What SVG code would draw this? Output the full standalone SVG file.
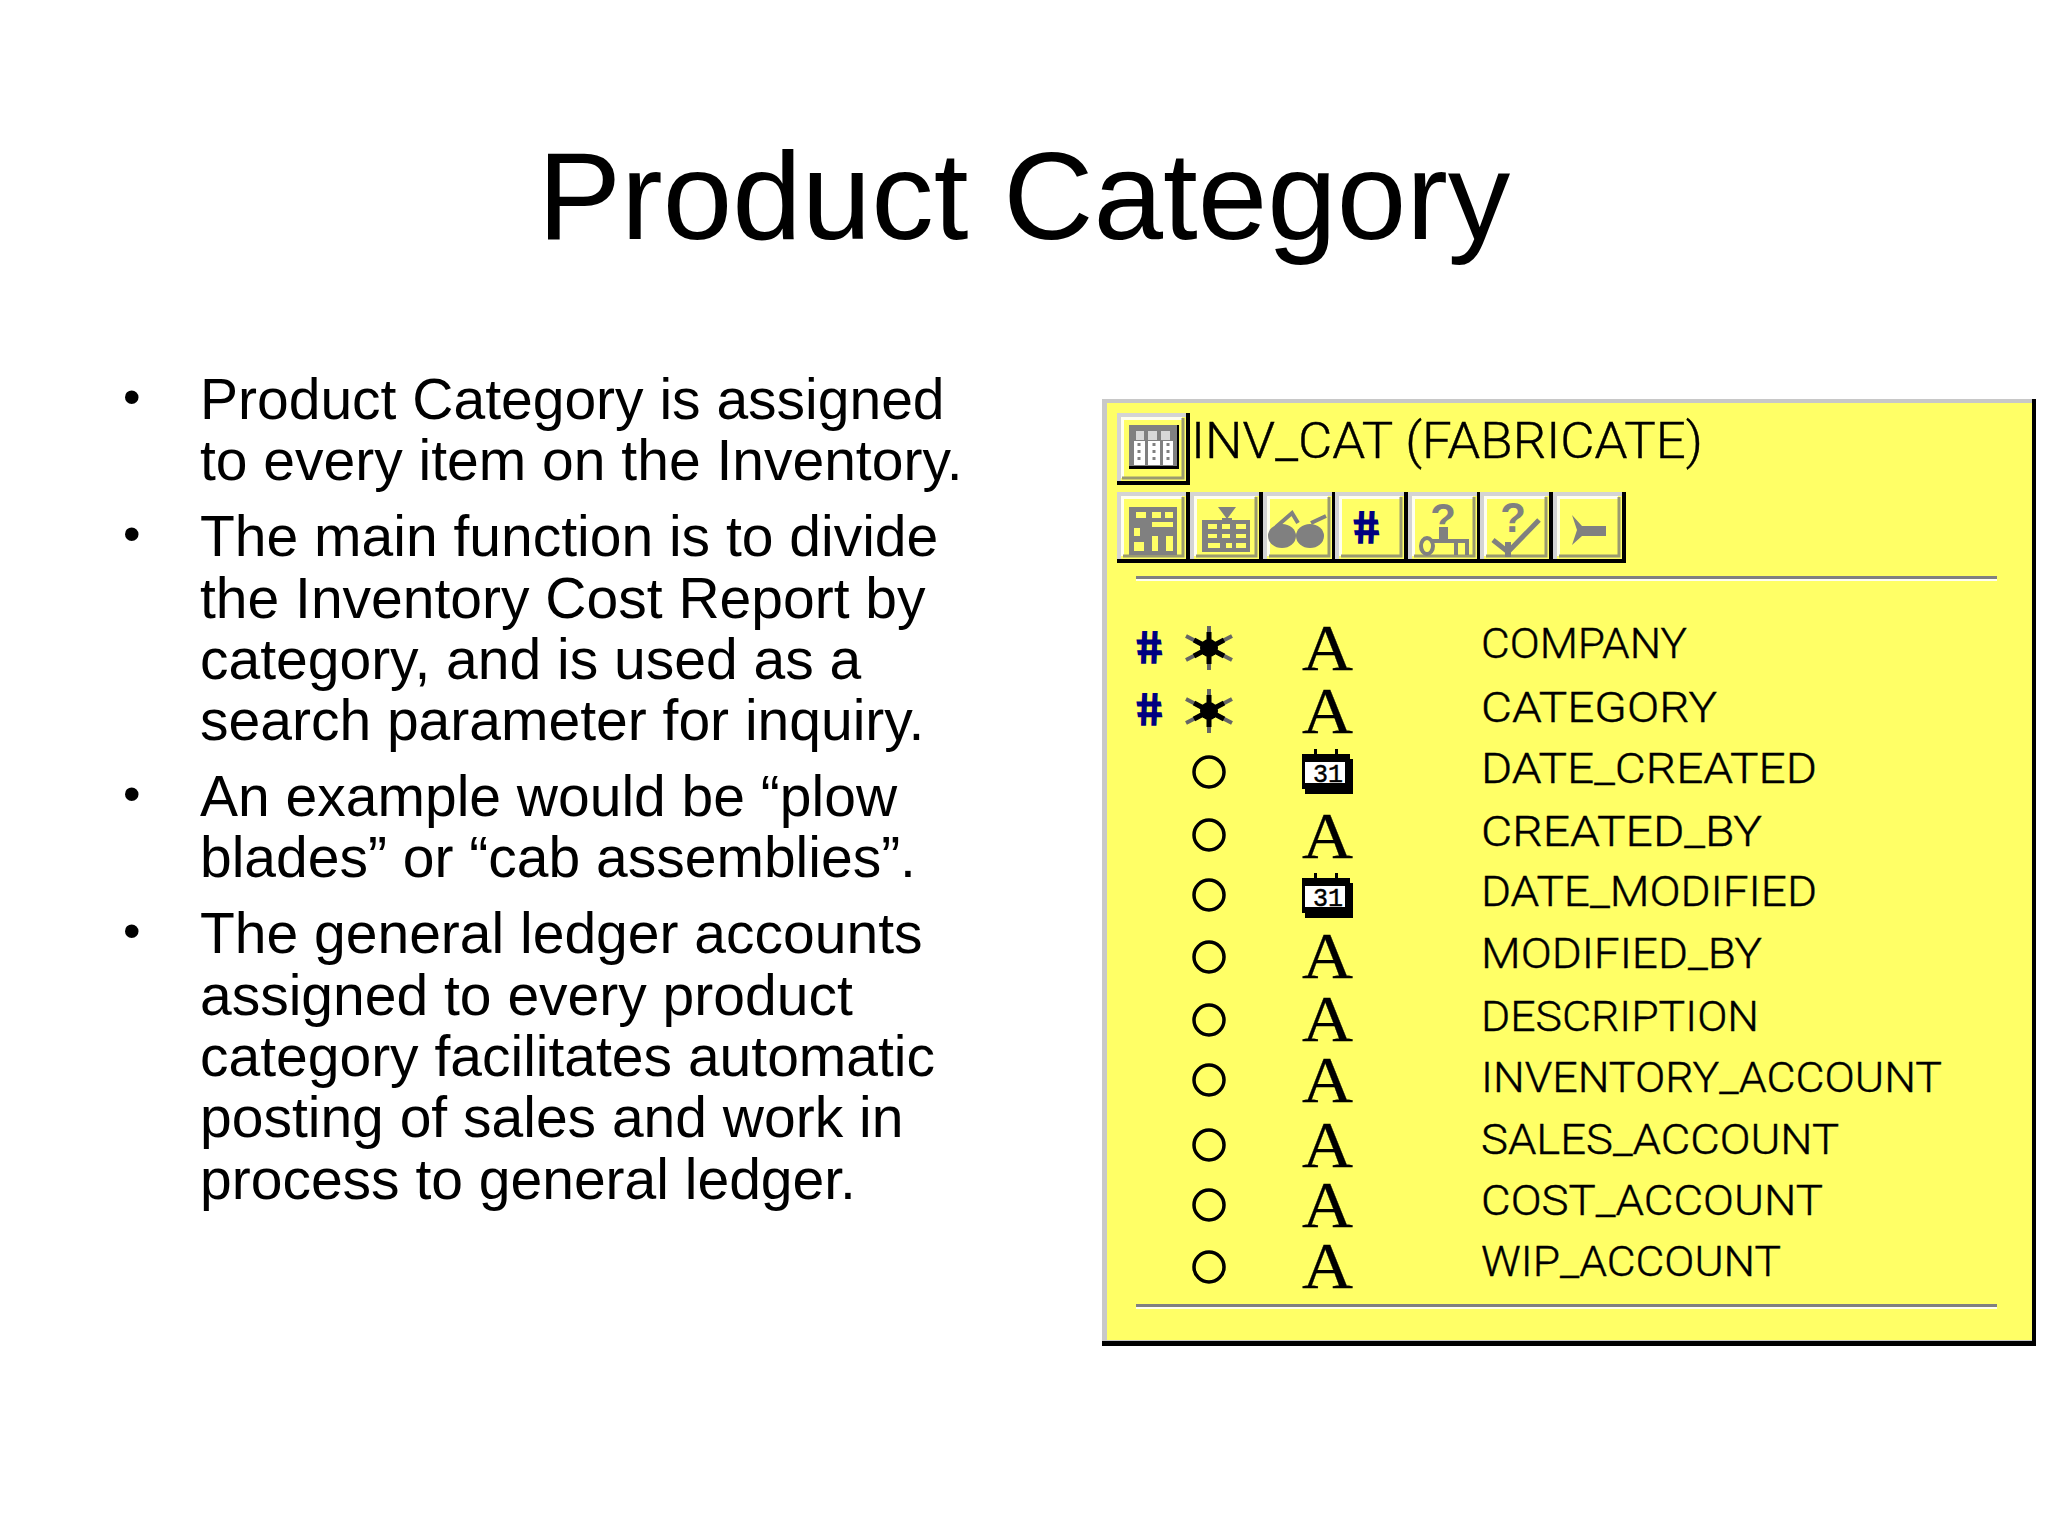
<svg xmlns="http://www.w3.org/2000/svg" xmlns:xlink="http://www.w3.org/1999/xlink" width="2048" height="1536" viewBox="0 0 2048 1536">
<style>
.title{font:125px "Liberation Sans",Arial,sans-serif;fill:#000}
.body{font:57px "Liberation Sans",Arial,sans-serif;fill:#000}
.bul{font:50px "Liberation Sans",Arial,sans-serif;fill:#000}
.row{font:300 42px Roboto,"Liberation Sans",sans-serif;fill:#000;stroke:#000;stroke-width:.4}
.hd{font:300 50px Roboto,"Liberation Sans",sans-serif;fill:#000;stroke:#000;stroke-width:.4}
.A{font:66px "Liberation Serif",serif;fill:#000;stroke:#000;stroke-width:.3}
.hash{font:bold 46px "Liberation Sans",sans-serif;fill:#000080;stroke:#000080;stroke-width:1.5}
.cal{font:26px "Liberation Mono",monospace;fill:#000;stroke:#000;stroke-width:.5}
.q{font:bold 42px "Liberation Sans",sans-serif;fill:#808080}
.o{fill:none;stroke:#000;stroke-width:3.5}
.g{fill:#808080}
.gl{fill:none;stroke:#808080;stroke-width:4}
</style>
<defs>
<g id="btn">
<rect x="0" y="0" width="73" height="71" fill="#ffff66"/>
<path d="M0 0H69V4H4V67H0Z" fill="#d4d4d4"/>
<path d="M4 4H65V7H7V64H4Z" fill="#fffff0"/>
<path d="M66 5V64H6" fill="none" stroke="#9a9a70" stroke-width="3"/>
<path d="M69 0H73V71H0V67H69Z" fill="#000"/>
</g>
<g id="circ"><circle cx="1209" cy="0" r="15" class="o"/></g>
<g id="star">
<path d="M0 -22V22M-23 -12L23 12M-23 12L23 -12" stroke="#666" stroke-width="4" fill="none"/>
<circle r="9" fill="#000"/>
<path d="M0 -16V16M-15 -8L15 8M-15 8L15 -8" stroke="#000" stroke-width="5" fill="none"/>
</g>
<g id="calendar">
<rect x="12" y="0" width="3" height="7" fill="#000"/><rect x="33" y="0" width="3" height="7" fill="#000"/>
<rect x="0" y="5" width="48" height="35" fill="#000"/>
<rect x="3" y="10" width="48" height="35" fill="#000"/>
<rect x="3" y="13" width="40" height="21" fill="#fff"/>
</g>
</defs>
<rect width="2048" height="1536" fill="#fff"/>
<text class="title" x="1024" y="239" text-anchor="middle">Product Category</text>
<g id="bullets">
<g class="bul"><text x="123" y="414">•</text><text x="123" y="551">•</text><text x="123" y="811">•</text><text x="123" y="948">•</text></g>
<g class="body">
<text x="200" y="419">Product Category is assigned</text>
<text x="200" y="480">to every item on the Inventory.</text>
<text x="200" y="556">The main function is to divide</text>
<text x="200" y="618">the Inventory Cost Report by</text>
<text x="200" y="679">category, and is used as a</text>
<text x="200" y="740">search parameter for inquiry.</text>
<text x="200" y="816">An example would be “plow</text>
<text x="200" y="877">blades” or “cab assemblies”.</text>
<text x="200" y="953">The general ledger accounts</text>
<text x="200" y="1015">assigned to every product</text>
<text x="200" y="1076">category facilitates automatic</text>
<text x="200" y="1137">posting of sales and work in</text>
<text x="200" y="1199">process to general ledger.</text>
</g>
</g>
<g id="panel">
<rect x="1102" y="399" width="934" height="947" fill="#000"/>
<rect x="1102" y="399" width="930" height="942" fill="#c8c8c8"/>
<rect x="1107" y="403" width="925" height="937" fill="#ffff66"/>
<text class="hd" x="1191" y="458" textLength="512" lengthAdjust="spacingAndGlyphs">INV_CAT (FABRICATE)</text>
<g id="titlebtn">
<rect x="1117" y="413" width="73" height="72" fill="#ffff66"/>
<path d="M1117 413H1186V417H1121V481H1117Z" fill="#d4d4d4"/>
<path d="M1121 417H1182V420H1124V478H1121Z" fill="#fffff0"/>
<path d="M1183 418V478H1122" fill="none" stroke="#9a9a70" stroke-width="3"/>
<path d="M1186 413H1190V485H1117V481H1186Z" fill="#000"/>
<rect x="1129" y="425" width="50" height="44" fill="#808080"/>
<rect x="1129" y="466" width="50" height="3" fill="#000"/>
<rect x="1177" y="425" width="2" height="44" fill="#000"/>
<path d="M1136 431h8v9h-8zM1148 431h9v9h-9zM1161 431h9v9h-9z" fill="#d8d8d8"/>
<path d="M1134 441h11v24h-11zM1148 441h12v24h-12zM1163 441h10v24h-10z" fill="#fff"/>
<path d="M1139 443v20M1154 443v20M1168 443v20" stroke="#808080" stroke-width="3" stroke-dasharray="3 4"/>
</g>
<g id="toolbar">
<use xlink:href="#btn" href="#btn" x="1117" y="492"/>
<use xlink:href="#btn" href="#btn" x="1190" y="492"/>
<use xlink:href="#btn" href="#btn" x="1263" y="492"/>
<use xlink:href="#btn" href="#btn" x="1335" y="492"/>
<use xlink:href="#btn" href="#btn" x="1408" y="492"/>
<use xlink:href="#btn" href="#btn" x="1480" y="492"/>
<use xlink:href="#btn" href="#btn" x="1553" y="492"/>
<g id="tb1"><rect x="1129" y="507" width="48" height="48" class="g"/>
<path d="M1136 512h10v6h-10zM1152 512h9v6h-9zM1165 512h8v6h-8zM1152 522h21v5h-21zM1134 528h6v8h-6zM1134 542h10v9h-10zM1152 536h6v15h-6zM1166 536h7v15h-7z" fill="#ffff66"/></g>
<g id="tb2"><path d="M1218 507H1236L1227 519Z" class="g"/><rect x="1222" y="518" width="10" height="8" class="g"/>
<rect x="1202" y="520" width="48" height="32" class="g"/>
<path d="M1208 524h9v5h-9zM1222 524h8v5h-8zM1236 524h10v5h-10zM1208 534h9v4h-9zM1222 534h8v4h-8zM1236 534h10v4h-10zM1208 543h12v5h-12zM1226 543h6v5h-6zM1236 543h10v5h-10z" fill="#ffff66"/></g>
<g id="tb3"><ellipse cx="1282" cy="536" rx="14" ry="12" class="g"/><ellipse cx="1310" cy="536" rx="14" ry="12" class="g"/>
<path d="M1276 527L1292 513L1298 523M1311 523L1326 516" class="gl"/></g>
<g id="tb4"><text class="hash" transform="translate(1369 543) skewX(10)" text-anchor="middle">#</text></g>
<g id="tb5"><text class="q" x="1443" y="533" text-anchor="middle">?</text>
<ellipse cx="1427" cy="546" rx="6" ry="8" fill="none" stroke="#808080" stroke-width="4"/>
<path d="M1432 541H1469M1456 541V555M1467 541V555" class="gl"/><rect x="1439" y="527" width="9" height="13" class="g"/></g>
<g id="tb6"><text class="q" x="1513" y="532" text-anchor="middle">?</text>
<path d="M1493 540L1508 552L1539 520" fill="none" stroke="#808080" stroke-width="5"/><rect x="1505" y="542" width="6" height="15" class="g"/></g>
<g id="tb7"><path d="M1572 515L1582 526H1606V536H1582L1572 545L1577 530Z" class="g"/></g>
</g>
<rect x="1136" y="576" width="861" height="3" fill="#808080"/><rect x="1136" y="579" width="861" height="2" fill="#fffff0"/>
<rect x="1136" y="1304" width="861" height="3" fill="#808080"/><rect x="1136" y="1307" width="861" height="2" fill="#fffff0"/>
<g id="hashes"><text class="hash" transform="translate(1152 663) skewX(10)" text-anchor="middle">#</text><text class="hash" transform="translate(1152 725) skewX(10)" text-anchor="middle">#</text></g>
<use xlink:href="#star" href="#star" x="1209" y="648"/>
<use xlink:href="#star" href="#star" x="1209" y="711"/>
<use xlink:href="#circ" href="#circ" y="772"/>
<use xlink:href="#circ" href="#circ" y="835"/>
<use xlink:href="#circ" href="#circ" y="895"/>
<use xlink:href="#circ" href="#circ" y="957"/>
<use xlink:href="#circ" href="#circ" y="1020"/>
<use xlink:href="#circ" href="#circ" y="1080"/>
<use xlink:href="#circ" href="#circ" y="1145"/>
<use xlink:href="#circ" href="#circ" y="1205"/>
<use xlink:href="#circ" href="#circ" y="1267"/>
<g id="types">
<text class="A" x="1302" y="670" textLength="51" lengthAdjust="spacingAndGlyphs">A</text>
<text class="A" x="1302" y="733" textLength="51" lengthAdjust="spacingAndGlyphs">A</text>
<use xlink:href="#calendar" href="#calendar" x="1302" y="749"/><text class="cal" x="1313" y="782" textLength="30" lengthAdjust="spacingAndGlyphs">31</text>
<text class="A" x="1302" y="858" textLength="51" lengthAdjust="spacingAndGlyphs">A</text>
<use xlink:href="#calendar" href="#calendar" x="1302" y="873"/><text class="cal" x="1313" y="906" textLength="30" lengthAdjust="spacingAndGlyphs">31</text>
<text class="A" x="1302" y="978" textLength="51" lengthAdjust="spacingAndGlyphs">A</text>
<text class="A" x="1302" y="1041" textLength="51" lengthAdjust="spacingAndGlyphs">A</text>
<text class="A" x="1302" y="1102" textLength="51" lengthAdjust="spacingAndGlyphs">A</text>
<text class="A" x="1302" y="1167" textLength="51" lengthAdjust="spacingAndGlyphs">A</text>
<text class="A" x="1302" y="1227" textLength="51" lengthAdjust="spacingAndGlyphs">A</text>
<text class="A" x="1302" y="1288" textLength="51" lengthAdjust="spacingAndGlyphs">A</text>
</g>
<g id="names">
<text class="row" x="1481" y="658" textLength="206" lengthAdjust="spacingAndGlyphs">COMPANY</text>
<text class="row" x="1481" y="722" textLength="236" lengthAdjust="spacingAndGlyphs">CATEGORY</text>
<text class="row" x="1481" y="783" textLength="336" lengthAdjust="spacingAndGlyphs">DATE_CREATED</text>
<text class="row" x="1481" y="846" textLength="281" lengthAdjust="spacingAndGlyphs">CREATED_BY</text>
<text class="row" x="1481" y="906" textLength="336" lengthAdjust="spacingAndGlyphs">DATE_MODIFIED</text>
<text class="row" x="1481" y="968" textLength="281" lengthAdjust="spacingAndGlyphs">MODIFIED_BY</text>
<text class="row" x="1481" y="1031" textLength="278" lengthAdjust="spacingAndGlyphs">DESCRIPTION</text>
<text class="row" x="1481" y="1092" textLength="461" lengthAdjust="spacingAndGlyphs">INVENTORY_ACCOUNT</text>
<text class="row" x="1481" y="1154" textLength="358" lengthAdjust="spacingAndGlyphs">SALES_ACCOUNT</text>
<text class="row" x="1481" y="1215" textLength="342" lengthAdjust="spacingAndGlyphs">COST_ACCOUNT</text>
<text class="row" x="1481" y="1276" textLength="300" lengthAdjust="spacingAndGlyphs">WIP_ACCOUNT</text>
</g>
</g>
</svg>
